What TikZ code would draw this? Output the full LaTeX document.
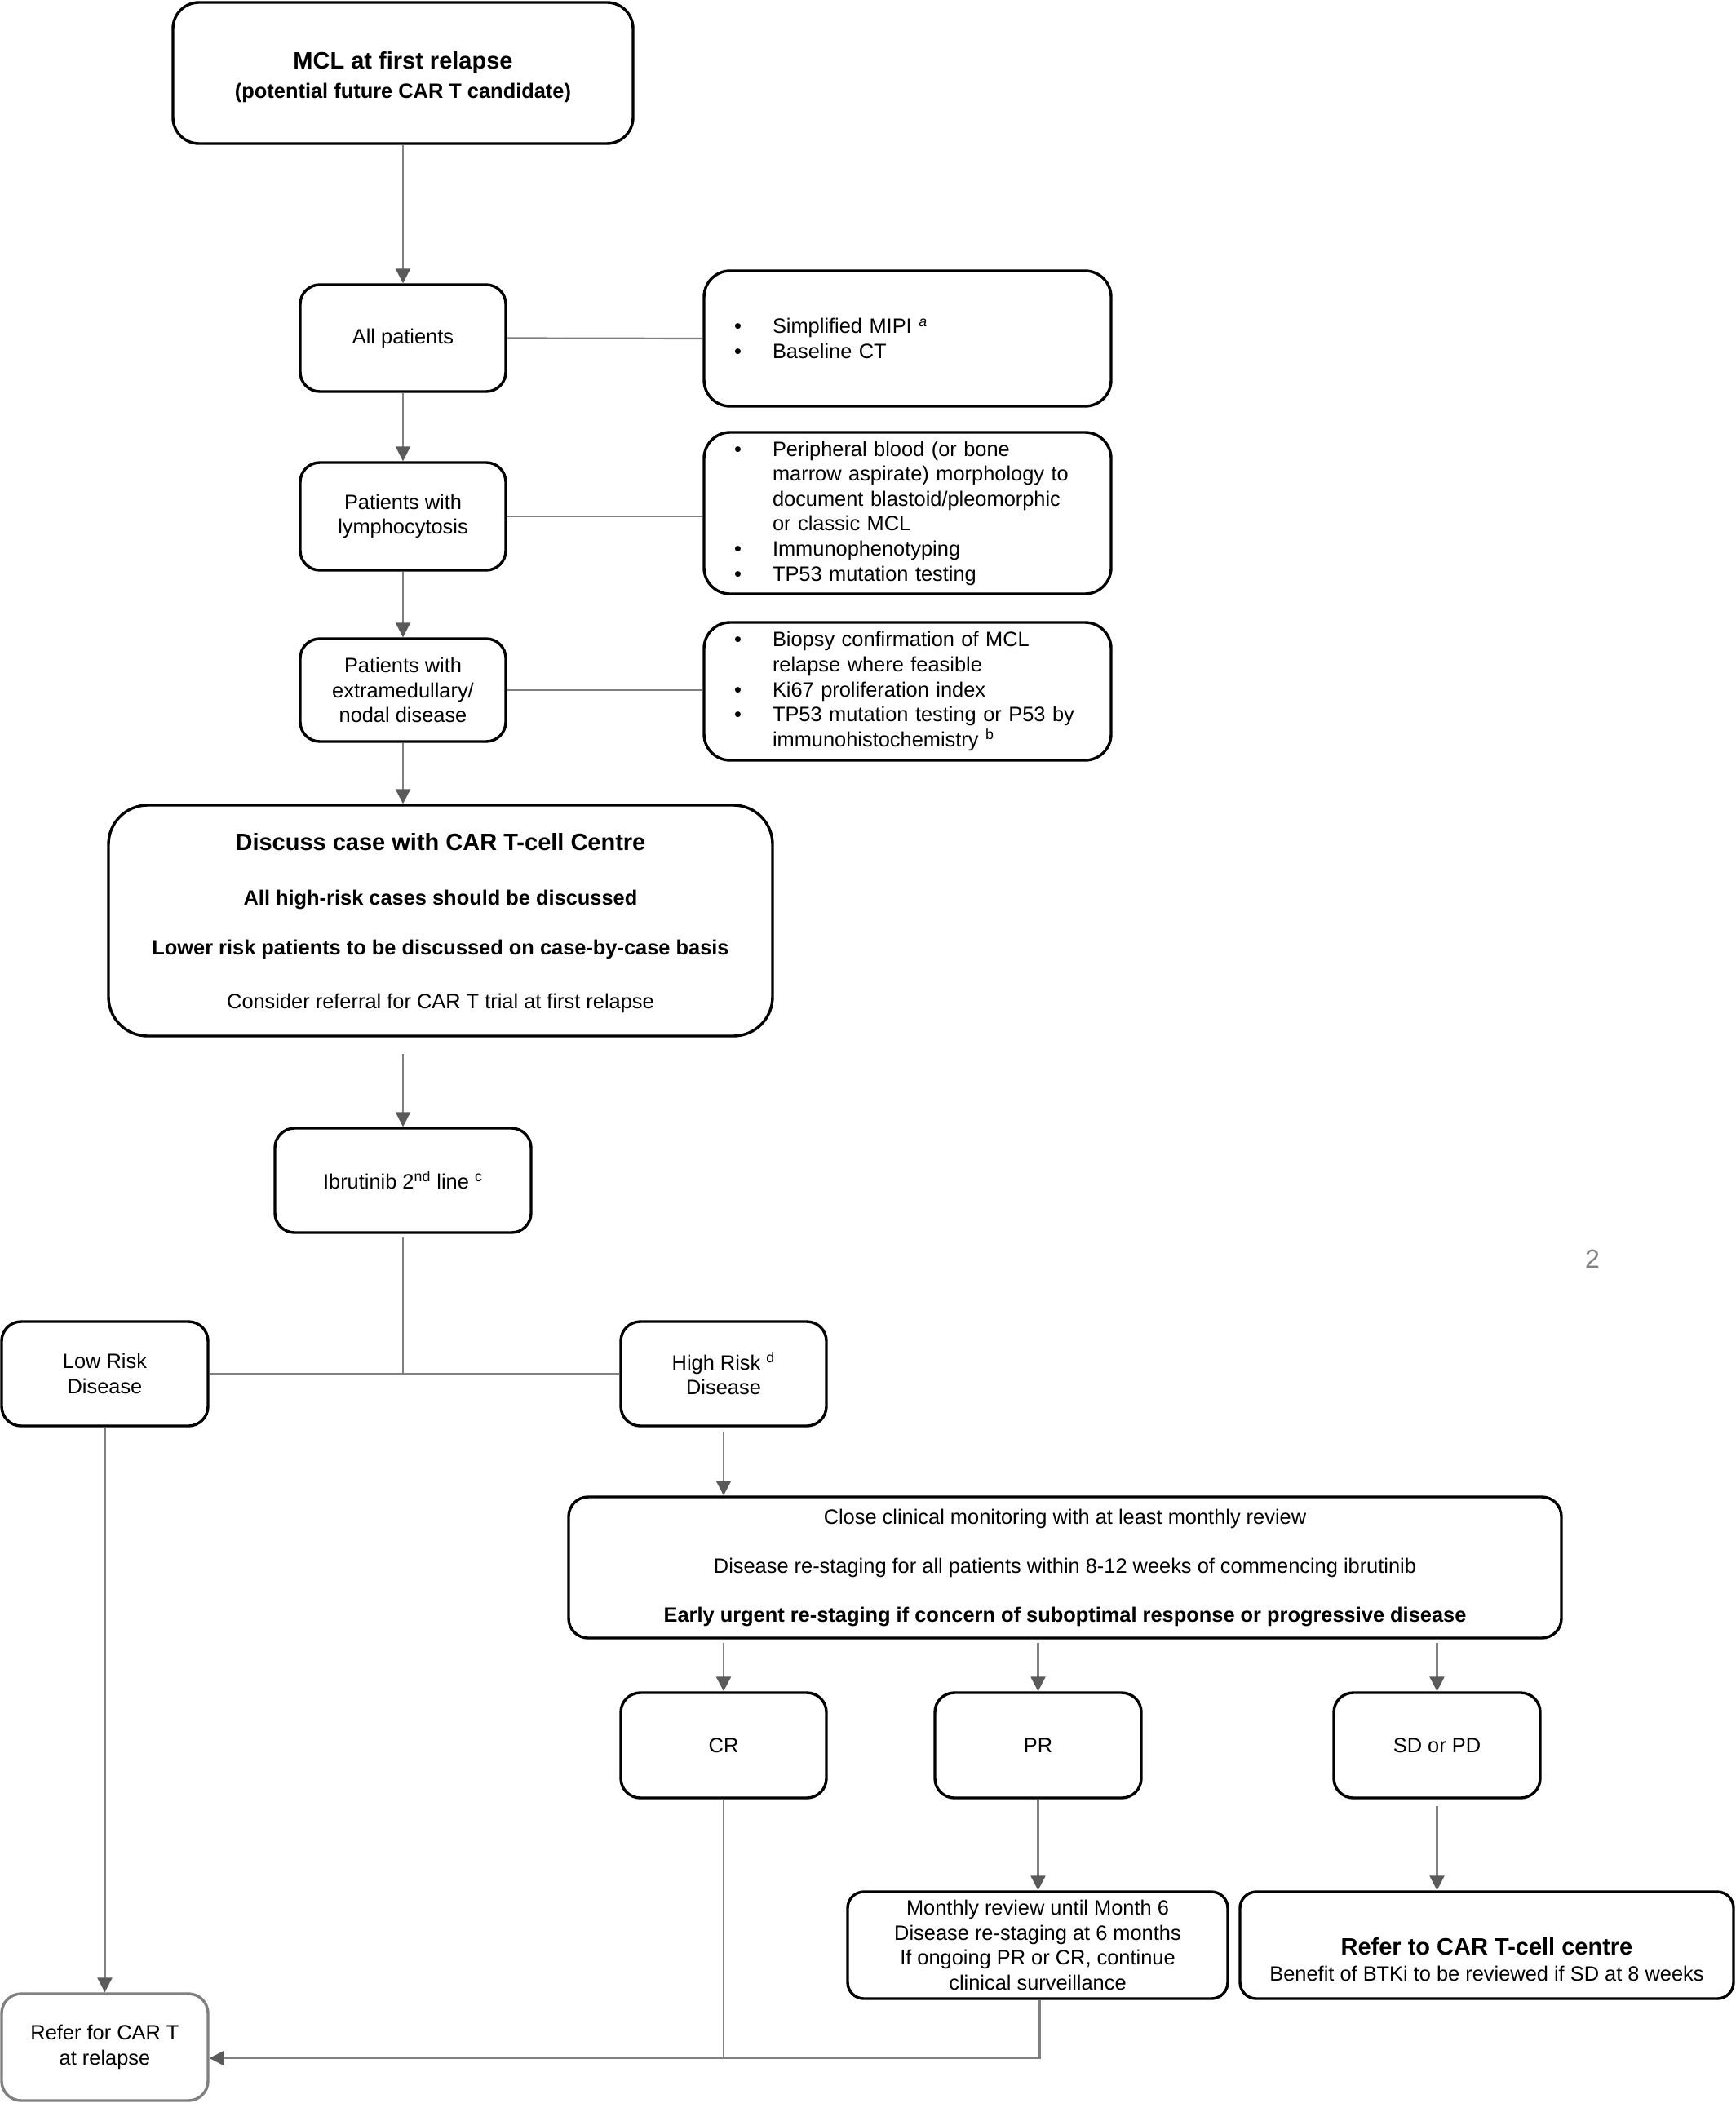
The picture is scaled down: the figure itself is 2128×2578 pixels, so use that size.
\documentclass[tikz,border=0pt]{standalone}
\usepackage{fontspec}
\setmainfont{Liberation Sans}
\usetikzlibrary{arrows.meta,calc}
\definecolor{linegray}{HTML}{808080}
\definecolor{arrgray}{HTML}{5A5A5A}
\newcommand\fnrm{\fontsize{12.7pt}{15.3pt}\selectfont}
\newcommand\fbig{\fontsize{14.5pt}{17pt}\selectfont\bfseries}
\newcommand\bl{\makebox[23.5pt][l]{\textbullet}}
\newcommand\ind{\hspace*{23.5pt}}
\begin{document}
\begin{tikzpicture}[x=0.5pt,y=-0.5pt,
  box/.style={draw=black, line width=1.7pt, rounded corners=12pt, fill=white,
    align=center, inner sep=0pt, font=\fnrm, minimum width=126pt, minimum height=64pt},
  listbox/.style={box, rounded corners=16pt, align=left, text width=212.5pt,
    inner xsep=18.5pt, inner ysep=0pt, minimum width=249.5pt},
  conn/.style={draw=linegray, line width=1.1pt},
  arr/.style={conn, -{Triangle[length=9pt,width=9pt,color=arrgray]}}]
\fill[white] (0,0) rectangle (2128,2578);
\useasboundingbox (0,0) rectangle (2128,2578);

% nodes
\node[box, rounded corners=16pt, minimum width=282pt, minimum height=86.5pt] (mcl) at (494,89.5)
  {\mbox{}\\[0.3pt]{\fbig MCL at first relapse}\\[2.7pt]{\bfseries (potential future CAR T candidate)}};
\node[box, minimum height=65.5pt] (allp) at (494,414.5) {All patients};
\node[listbox, minimum height=83pt] (mipi) at (1112.5,415)
  {\bl Simplified MIPI \textsuperscript{\itshape a}\\
   \bl Baseline CT};
\node[box, minimum height=66pt] (lym) at (494,633) {Patients with\\lymphocytosis};
\node[listbox, minimum height=99pt] (lymx) at (1112.5,629)
  {\bl Peripheral blood (or bone\\
   \ind marrow aspirate) morphology to\\
   \ind document blastoid/pleomorphic\\
   \ind or classic MCL\\
   \bl Immunophenotyping\\
   \bl TP53 mutation testing};
\node[box, minimum height=63pt] (ext) at (494,846) {Patients with\\extramedullary/\\nodal disease};
\node[listbox, minimum height=84.5pt] (extx) at (1112.5,847.5)
  {\bl Biopsy confirmation of MCL\\
   \ind relapse where feasible\\
   \bl Ki67 proliferation index\\
   \bl TP53 mutation testing or P53 by\\
   \ind immunohistochemistry \textsuperscript{b}};
\node[box, rounded corners=24pt, minimum width=407pt, minimum height=141.5pt] (disc) at (540,1128.5)
  {\mbox{}\\[-1.7pt]{\fbig Discuss case with CAR T-cell Centre}\\[18.2pt]
   {\bfseries All high-risk cases should be discussed}\\[15.2pt]
   {\bfseries Lower risk patients to be discussed on case-by-case basis}\\[17.7pt]
   Consider referral for CAR T trial at first relapse};
\node[box, minimum width=157pt, minimum height=64pt] (ibr) at (494,1447)
  {Ibrutinib 2\textsuperscript{nd} line \textsuperscript{c}};
\node[box, minimum width=126.5pt] (low) at (128.5,1684) {Low Risk\\Disease};
\node[box] (high) at (887,1684) {High Risk \textsuperscript{d}\\Disease};
\node[box, minimum width=608.5pt, minimum height=86.5pt] (close) at (1305.5,1921.5)
  {Close clinical monitoring with at least monthly review\\[14.7pt]
   Disease re-staging for all patients within 8-12 weeks of commencing ibrutinib\\[14.7pt]
   {\bfseries Early urgent re-staging if concern of suboptimal response or progressive disease}};
\node[box, minimum height=64.5pt] (cr) at (887,2139.5) {CR};
\node[box, minimum width=126.5pt, minimum height=64.5pt] (pr) at (1272.5,2139.5) {PR};
\node[box, minimum width=126.5pt, minimum height=64.5pt] (sd) at (1761.5,2139.5) {SD or PD};
\node[box, rounded corners=10pt, minimum width=233pt, minimum height=65.5pt] (month) at (1272,2384.5)
  {Monthly review until Month 6\\
   Disease re-staging at 6 months\\
   If ongoing PR or CR, continue\\
   clinical surveillance};
\node[box, rounded corners=10pt, minimum width=302.5pt, minimum height=65.5pt] (refc) at (1822.5,2384.5)
  {\mbox{}\\[12.7pt]{\fbig Refer to CAR T-cell centre}\\[0.5pt]
   Benefit of BTKi to be reviewed if SD at 8 weeks};
\node[box, draw=linegray, minimum width=126.5pt, minimum height=65.5pt] (refer) at (128.5,2509.5)
  {Refer for CAR T\\at relapse};
\node[text=gray, font=\fontsize{16pt}{18pt}\selectfont] (pg) at (1952,1543) {2};

% connectors
\draw[arr] (mcl.south) -- (allp.north);
\draw[conn] (allp.east) -- (mipi.west);
\draw[arr] (allp.south) -- (lym.north);
\draw[conn] (lym.east) -- (lym.east -| lymx.west);
\draw[arr] (lym.south) -- (ext.north);
\draw[conn] (ext.east) -- (ext.east -| extx.west);
\draw[arr] (ext.south) -- (ext.south |- disc.north);
\draw[arr, shorten <=10pt] (ibr.north |- disc.south) -- (ibr.north);
\coordinate (junc) at (494,1684);
\draw[conn, shorten <=2pt] (ibr.south) -- (junc);
\draw[conn] (low.east) -- (high.west);
\draw[arr, shorten <=2.5pt] (high.south) -- (high.south |- close.north);
\draw[arr, shorten <=2pt] (cr.north |- close.south) -- (cr.north);
\draw[arr, shorten <=2pt] (pr.north |- close.south) -- (pr.north);
\draw[arr, shorten <=2pt] (sd.north |- close.south) -- (sd.north);
\draw[arr] (pr.south) -- (pr.south |- month.north);
\draw[arr, shorten <=4pt] (sd.south) -- (sd.south |- refc.north);
\draw[arr] (low.south) -- (low.south |- refer.north);
\coordinate (bend) at (1274.5,2523);
\draw[conn] (cr.south) -- (cr.south |- bend);
\draw[arr] (month.south -| bend) |- (refer.east |- bend);
\end{tikzpicture}
\end{document}
